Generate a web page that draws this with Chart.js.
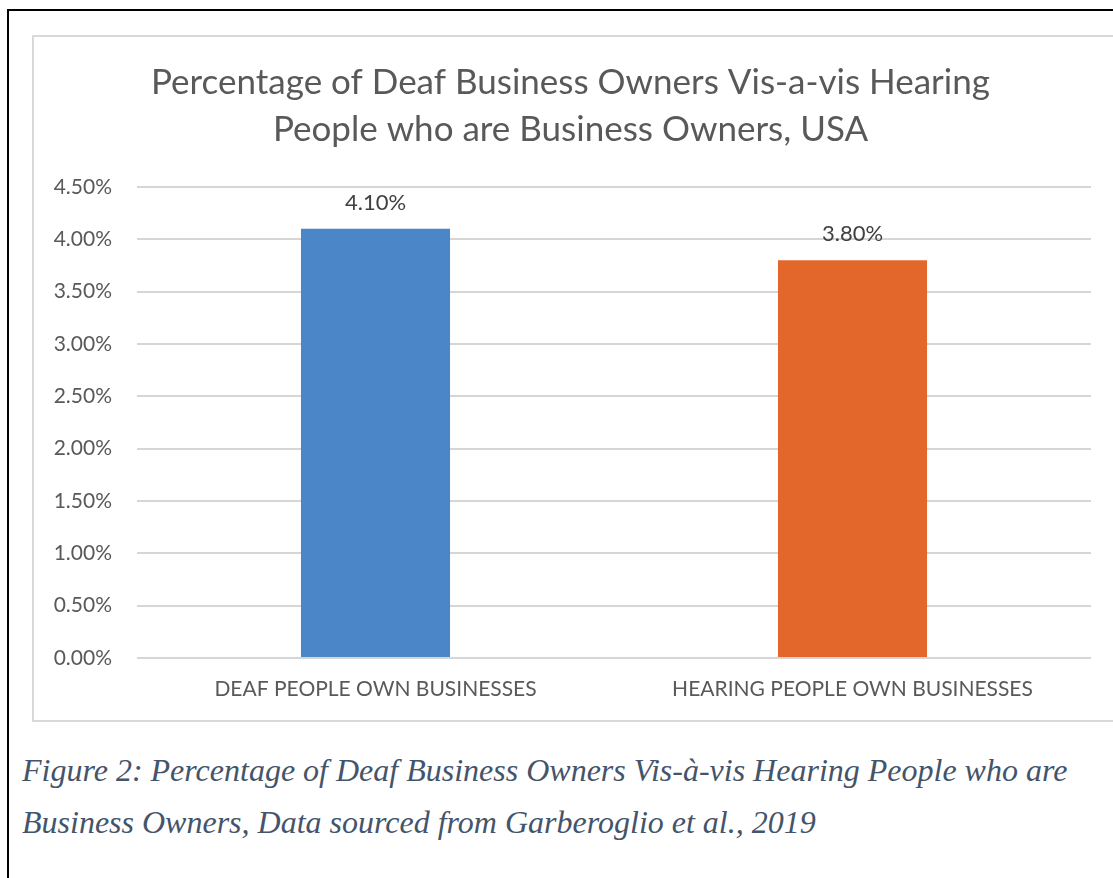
<!DOCTYPE html>
<html><head><meta charset="utf-8">
<script src="https://cdn.jsdelivr.net/npm/chart.js@4.4.1/dist/chart.umd.min.js"></script>
<style>
html,body{margin:0;padding:0;background:#fff;width:1113px;height:878px;overflow:hidden;}
#frame{position:absolute;left:7px;top:9px;width:1200px;height:1000px;border-left:2px solid #000;border-top:2px solid #000;}
#box{position:absolute;left:32px;top:35px;width:1100px;height:687px;border:2px solid #d9d9d9;box-sizing:border-box;}
#wrap{position:absolute;left:34px;top:37px;width:1078px;height:683px;}
#caption{position:absolute;left:22px;top:744px;font-family:'Liberation Serif',serif;font-style:italic;font-size:32px;line-height:52px;color:#44546a;white-space:nowrap;}
</style></head>
<body>
<div id="frame"></div>
<div id="box"></div>
<div id="wrap"><canvas id="c" width="1078" height="683"></canvas></div>
<div id="caption">Figure 2: Percentage of Deaf Business Owners Vis-à-vis Hearing People who are<br>Business Owners, Data sourced from Garberoglio et al., 2019</div>
<script>
const categories = ['DEAF PEOPLE OWN BUSINESSES', 'HEARING PEOPLE OWN BUSINESSES'];
const values = [4.10, 3.80];
const barColors = ['#4a86c8', '#e3662a'];
const titleLines = ['Percentage of Deaf Business Owners Vis-a-vis Hearing', 'People who are Business Owners, USA'];
const yMin = 0, yMax = 4.5, yStep = 0.5;

const valueLabels = {
  id: 'valueLabels',
  afterDatasetsDraw(chart) {
    const ctx = chart.ctx;
    const meta = chart.getDatasetMeta(0);
    ctx.save();
    ctx.font = '22px Lato';
    ctx.fillStyle = '#404040';
    ctx.textAlign = 'center';
    ctx.textBaseline = 'middle';
    meta.data.forEach((el, i) => {
      ctx.fillText(values[i].toFixed(2) + '%', el.x, el.y - 26);
    });
    ctx.restore();
  }
};

function draw() {
  new Chart(document.getElementById('c'), {
    type: 'bar',
    data: {
      labels: categories,
      datasets: [{
        data: values,
        backgroundColor: barColors,
        borderWidth: 0,
        categoryPercentage: 0.625,
        barPercentage: 0.5
      }]
    },
    options: {
      responsive: false,
      animation: false,
      layout: { padding: { left: 16, right: 21, top: 0, bottom: 0 } },
      plugins: {
        legend: { display: false },
        tooltip: { enabled: false },
        title: {
          display: true,
          text: titleLines,
          color: '#595959',
          font: { family: 'Lato', size: 35, weight: 'normal', lineHeight: 47 / 35 },
          padding: { top: 22.5, bottom: 33.5 }
        }
      },
      scales: {
        x: {
          grid: { display: false, drawTicks: false },
          border: { display: false },
          ticks: { color: '#595959', font: { family: 'Lato', size: 21 }, padding: 19, maxRotation: 0, autoSkip: false },
          afterFit(s) { s.height = 62; }
        },
        y: {
          min: yMin, max: yMax,
          grid: { color: '#d6d6d6', lineWidth: 2, drawTicks: false },
          border: { display: false },
          ticks: {
            stepSize: yStep,
            color: '#595959',
            font: { family: 'Lato', size: 21 },
            padding: 25,
            callback: v => Number(v).toFixed(2) + '%'
          },
          afterFit(s) { s.width = 87; }
        }
      }
    },
    plugins: [valueLabels]
  });
}
if (document.fonts && document.fonts.load) {
  Promise.all([document.fonts.load('19px Lato'), document.fonts.load('italic 28px "Liberation Serif"')]).then(draw, draw);
} else { draw(); }
</script>
</body></html>
